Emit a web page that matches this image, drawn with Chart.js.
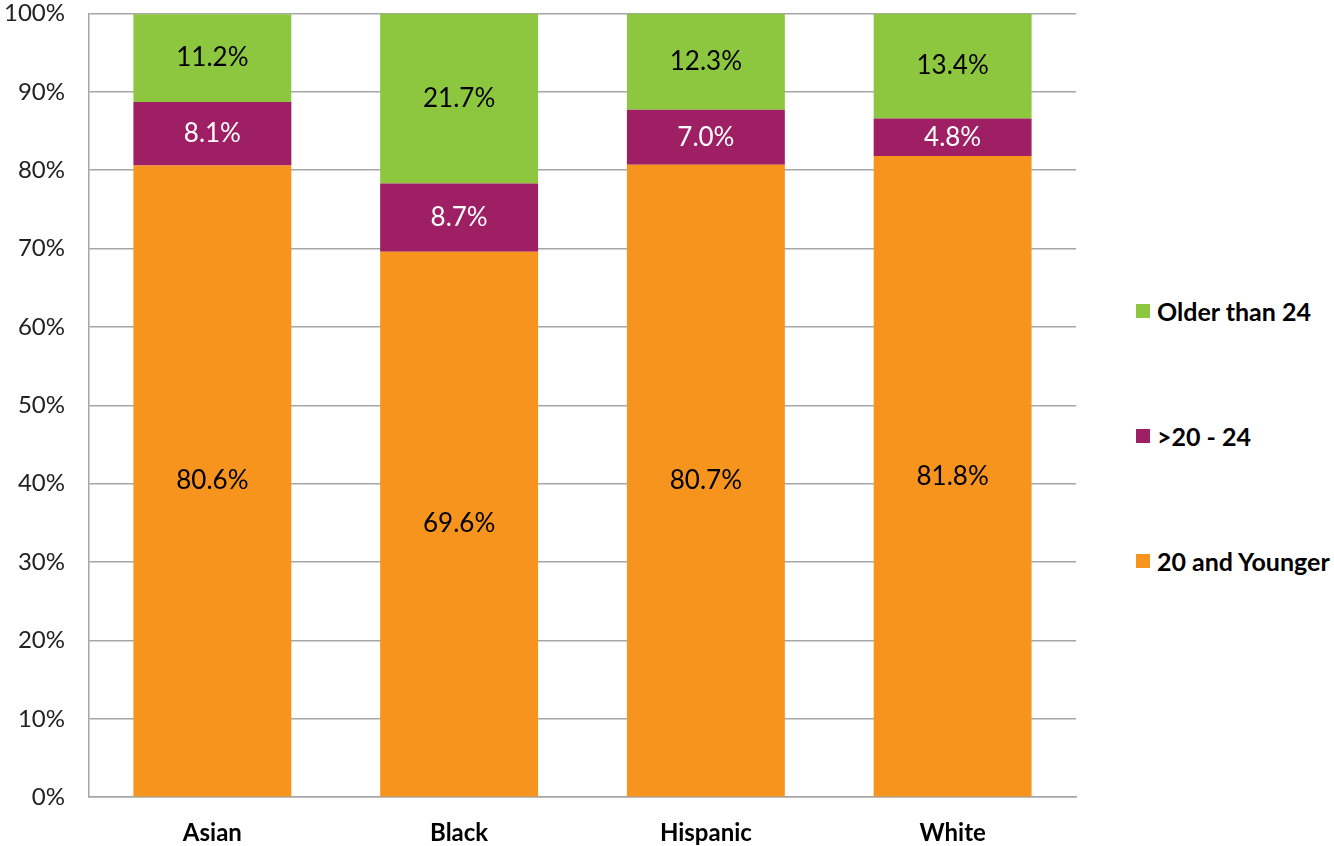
<!DOCTYPE html>
<html>
<head>
<meta charset="utf-8">
<script src="https://cdn.jsdelivr.net/npm/chart.js@4.4.1/dist/chart.umd.min.js"></script>
<style>
  body { margin: 0; background: #fff; overflow: hidden; }
  #wrap { position: relative; width: 1334px; height: 846px; overflow: hidden; }
  #chart { position: absolute; left: -20px; top: -25px; }
  #legend { position: absolute; left: 1136px; top: 0; }
  .item { position: absolute; left: 0; display: flex; align-items: center; white-space: nowrap;
          font: bold 25px Lato, sans-serif; color: #000; transform: translateY(-50%); }
  .box { width: 14px; height: 14px; margin-right: 7px; }
</style>
</head>
<body>
<div id="wrap">
  <canvas id="chart" width="1120" height="887"></canvas>
  <div id="legend"></div>
</div>
<script>
// categories and shares (%) per age group
const categories = ['Asian', 'Black', 'Hispanic', 'White'];
const young = [80.6, 69.6, 80.7, 81.8];
const mid = [8.1, 8.7, 7.0, 4.8];
const older = [11.2, 21.7, 12.3, 13.4];
const seriesNames = ['20 and Younger', '>20 - 24', 'Older than 24'];
const yTicks = [0, 10, 20, 30, 40, 50, 60, 70, 80, 90, 100];

const colors = ['#F7941D', '#9E1F63', '#8DC63F'];
const labelColors = ['#000', '#fff', '#000'];

// draws the value in the middle of each bar segment
const valueLabels = {
    id: 'valueLabels',
    afterDatasetsDraw(chart) {
        const ctx = chart.ctx;
        ctx.save();
        ctx.font = '26px Lato, sans-serif';
        ctx.textAlign = 'center';
        ctx.textBaseline = 'middle';
        chart.data.datasets.forEach(function(ds, i) {
            const meta = chart.getDatasetMeta(i);
            ctx.fillStyle = labelColors[i];
            meta.data.forEach(function(bar, j) {
                const c = bar.getCenterPoint();
                ctx.fillText(ds.data[j].toFixed(1) + '%', c.x, c.y);
            });
        });
        ctx.restore();
    }
};

const ctx = document.getElementById('chart').getContext('2d');
const chart = new Chart(ctx, {
    type: 'bar',
    data: {
        labels: categories,
        datasets: [young, mid, older].map(function(d, i) {
            return {
                label: seriesNames[i],
                data: d,
                backgroundColor: colors[i],
                borderWidth: 0,
                barPercentage: 0.64,
                categoryPercentage: 1
            };
        })
    },
    options: {
        responsive: false,
        animation: false,
        devicePixelRatio: 1,
        layout: { padding: { left: 0, right: 24, top: 0, bottom: 0 } },
        plugins: {
            legend: { display: false },
            tooltip: { enabled: false }
        },
        scales: {
            x: {
                stacked: true,
                grid: { display: false },
                border: { color: '#a6a6a6', width: 1.5 },
                ticks: { color: '#000', font: { family: 'Lato', size: 24, weight: 'bold' }, padding: 14 }
            },
            y: {
                stacked: true,
                min: 0,
                max: 100,
                afterBuildTicks(axis) { axis.ticks = yTicks.map(v => ({ value: v })); },
                grid: { color: '#a6a6a6', lineWidth: 1.5, drawTicks: false },
                border: { color: '#a6a6a6', width: 1.5 },
                ticks: { color: '#222', font: { family: 'Lato', size: 24 }, padding: 24,
                         callback: v => v + '%' }
            }
        }
    },
    plugins: [valueLabels]
});

// html legend, reversed like the reference
const legendTops = [561, 436, 311];
const legend = document.getElementById('legend');
chart.data.datasets.forEach(function(ds, i) {
    const item = document.createElement('div');
    item.className = 'item';
    item.style.top = legendTops[i] + 'px';
    item.innerHTML = '<span class="box" style="background:' + ds.backgroundColor + '"></span>' + ds.label;
    legend.appendChild(item);
});
</script>
</body>
</html>
